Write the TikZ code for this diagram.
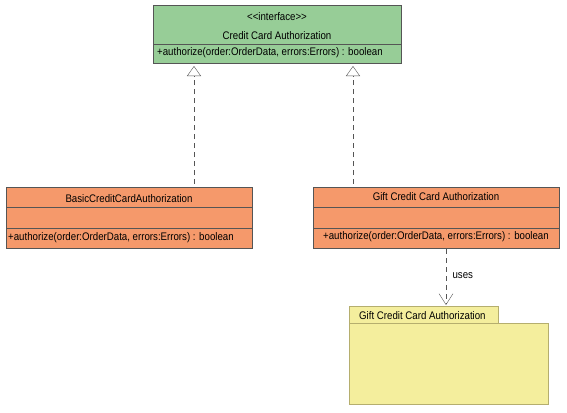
\documentclass[tikz,border=0pt]{standalone}
\usepackage{fontspec}
\setmainfont{Liberation Sans}[FakeStretch=0.88]
\usetikzlibrary{arrows.meta,shadows}
\definecolor{IfGreen}{HTML}{97CD97}
\definecolor{ClsOrange}{HTML}{F5996B}
\definecolor{PkgYellow}{HTML}{F4EE9D}
\definecolor{PkgLine}{HTML}{B5AE6E}
\definecolor{EdgeGray}{HTML}{555555}
\tikzset{
	umlbox/.style={draw=EdgeGray, inner sep=0pt, outer sep=0pt,
		drop shadow={shadow xshift=1.2pt, shadow yshift=-1.2pt, opacity=0.35}},
	realize/.style={EdgeGray, dash pattern=on 5pt off 4pt,
		-{Triangle[open, fill=white, length=10pt, width=14pt]}},
	uses/.style={EdgeGray, dash pattern=on 5pt off 4pt,
		-{Straight Barb[length=11pt, width=14pt]}}
}

\begin{document}
\begin{tikzpicture}[x=1pt, y=-1pt, every node/.style={font=\fontsize{11}{13}\selectfont, text=black}]
%		\draw [step=10, gray, thin, opacity=0.3] (0,0) grid (567,412);
		\useasboundingbox (0,0) rectangle (567,412);
		
		% interface
		\node[umlbox, fill=IfGreen, minimum width=248pt, minimum height=58pt] (iface) at (277,34) {};
		\draw[EdgeGray] (153,44) -- (401,44);
		\node (ifstereo) at (277,17) {<\kern0pt<interface>\kern0pt>};
		\node (ifname) at (277,36) {Credit Card Authorization};
		\node[anchor=west, inner sep=0pt] (ifop) at (157,53) {+authorize(order:OrderData, errors:Errors) : boolean};
		
		% basic class
		\node[umlbox, fill=ClsOrange, minimum width=246pt, minimum height=61pt] (basic) at (129,217.5) {};
		\draw[EdgeGray] (6,207) -- (252,207);
		\draw[EdgeGray] (6,228) -- (252,228);
		\node (basicname) at (129,199) {BasicCreditCardAuthorization};
		\node[anchor=west, inner sep=0pt] (basicop) at (8,238) {+authorize(order:OrderData, errors:Errors) : boolean};
		
		% gift class
		\node[umlbox, fill=ClsOrange, minimum width=246pt, minimum height=61pt] (gift) at (436,217.5) {};
		\draw[EdgeGray] (313,207) -- (559,207);
		\draw[EdgeGray] (313,228) -- (559,228);
		\node (giftname) at (436,197) {Gift Credit Card Authorization};
		\node[anchor=west, inner sep=0pt] (giftop) at (323,237) {+authorize(order:OrderData, errors:Errors) : boolean};
		
		% package
		\node[umlbox, draw=PkgLine, fill=PkgYellow, minimum width=199pt, minimum height=81pt] (pkgbody) at (448.5,363.5) {};
		\node[umlbox, draw=PkgLine, fill=PkgYellow, minimum width=149pt, minimum height=17pt] (pkgtab) at (423.5,314.5) {};
		\node[anchor=west, inner sep=0pt] (pkgname) at (359,316) {Gift Credit Card Authorization};
		
		% connectors
		\coordinate (basicUp) at (194,184);
		\coordinate (ifLeft) at (194,66);
		\coordinate (giftUp) at (353,184);
		\coordinate (ifRight) at (353,66);
		\coordinate (giftDown) at (446,249);
		\coordinate (pkgTop) at (446,305);
		
		\draw[realize] (basicUp) -- (ifLeft);
		\draw[realize] (giftUp) -- (ifRight);
		\draw[uses] (giftDown) -- (pkgTop) node [right, pos=0.48, xshift=3pt] {uses};
		
	\end{tikzpicture}
\end{document}
